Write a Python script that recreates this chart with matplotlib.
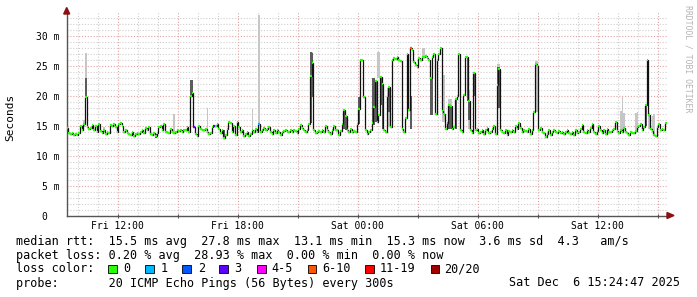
import numpy as np
import matplotlib
matplotlib.use('Agg')
import matplotlib.pyplot as plt
from matplotlib.patches import Rectangle, Polygon

# ---------------- data (5-minute steps, ms) ----------------
median_ms = [
    14.6, 13.8, 13.6, 13.7, 13.5, 13.6, 13.4, 13.8, 14.9, 14.2, 15.3, 19.8,
    14.8, 14.4, 14.6, 15.1, 14.3, 15.0, 13.9, 15.2, 14.1, 13.7, 14.2, 13.6,
    14.0, 13.8, 15.1, 15.0, 15.2, 14.7, 14.0, 15.3, 15.4, 15.0, 14.0, 14.3,
    13.8, 13.6, 13.5, 13.9, 13.3, 13.6, 13.8, 13.6, 13.9, 14.2, 13.7, 14.6,
    14.2, 14.8, 13.6, 13.4, 13.7, 13.3, 13.8, 14.7, 15.0, 14.3, 15.2, 13.9,
    14.0, 13.8, 14.4, 13.9, 13.7, 14.0, 14.2, 14.1, 14.3, 13.9, 14.2, 14.3,
    14.8, 13.9, 20.0, 20.5, 14.7, 13.6, 13.3, 15.0, 14.4, 14.2, 14.3, 14.5,
    14.0, 13.6, 13.8, 14.8, 15.0, 15.0, 15.3, 14.5, 13.8, 14.2, 13.0, 13.4,
    14.5, 15.6, 15.4, 14.0, 15.0, 13.5, 15.6, 14.7, 14.0, 14.2, 13.2, 13.6,
    13.9, 13.2, 13.6, 14.2, 13.9, 14.5, 14.0, 15.3, 14.0, 14.3, 14.6, 14.2,
    14.5, 14.8, 14.0, 13.6, 14.2, 13.8, 14.3, 13.9, 13.5, 14.0, 14.1, 14.3,
    14.0, 13.9, 14.2, 14.0, 14.3, 14.1, 13.8, 14.4, 15.1, 14.6, 14.2, 14.0,
    14.3, 15.3, 23.2, 25.4, 14.3, 13.8, 13.9, 14.1, 14.0, 14.3, 13.9, 15.0,
    14.2, 14.0, 13.6, 14.3, 15.0, 14.2, 14.3, 13.5, 14.1, 15.2, 17.6, 16.6,
    14.2, 14.0, 14.4, 13.9, 14.1, 14.0, 15.2, 17.7, 26.0, 26.0, 19.8, 14.2,
    13.6, 13.9, 14.3, 15.5, 18.1, 22.5, 15.6, 16.8, 23.1, 22.0, 14.2, 13.9,
    20.0, 21.5, 14.8, 26.0, 26.3, 26.1, 26.5, 26.0, 25.8, 14.5, 13.9, 16.3,
    27.0, 17.6, 27.9, 27.6, 25.6, 25.1, 24.8, 26.2, 26.0, 26.5, 26.4, 26.6,
    26.2, 26.0, 22.9, 26.5, 26.9, 17.0, 25.9, 27.0, 27.9, 17.5, 17.0, 14.5,
    15.4, 18.4, 18.2, 14.5, 14.8, 19.5, 20.0, 27.0, 14.2, 13.9, 20.1, 26.5,
    26.5, 19.1, 14.2, 13.8, 23.8, 14.3, 14.5, 13.7, 13.9, 14.3, 13.6, 14.2,
    14.6, 13.8, 14.0, 14.5, 15.0, 13.6, 21.8, 24.5, 14.3, 14.0, 13.7, 14.2,
    13.5, 14.1, 13.9, 14.3, 14.0, 15.0, 14.5, 15.4, 14.6, 14.0, 14.3, 14.1,
    13.9, 14.4, 13.6, 14.2, 17.3, 25.2, 25.0, 14.2, 14.6, 14.0, 13.8, 13.1,
    13.6, 14.2, 13.5, 13.9, 14.3, 14.0, 13.7, 14.1, 13.8, 14.0, 13.6, 13.9,
    14.3, 13.8, 13.6, 13.9, 13.5, 14.2, 13.7, 13.9, 14.4, 15.1, 14.0, 13.7,
    14.3, 13.9, 14.6, 15.2, 14.0, 13.6, 14.1, 15.0, 14.3, 13.8, 14.2, 13.6,
    14.5, 14.0, 13.9, 14.2, 14.4, 15.6, 14.1, 13.7, 14.3, 13.9, 14.6, 14.0,
    13.8, 13.4, 13.9, 13.7, 13.8, 14.1, 14.7, 15.0, 15.2, 14.3, 14.8, 18.4,
    25.9, 16.8, 14.4, 14.1, 13.5, 13.3, 14.8, 15.3, 14.2, 14.5, 14.3, 15.4,
]
step_min = 5
start_hour = 9 + 27 / 60          # Fri 09:27
span_hours = 30

loss_classes = ['0', '1', '2', '3', '4-5', '6-10', '11-19', '20/20']
loss_colors = ['#26ff00', '#00b8ff', '#0059ff', '#5e00ff', '#ff00ff',
               '#ff5500', '#ff0000', '#a10000']
loss_idx = [76, 88, 115, 206, 228]
loss_cls = [3, 3, 1, 5, 4]

light_idx = [0, 10, 11, 22, 64, 84, 111, 115, 147, 175, 186, 187, 192, 193,
             213, 214, 225, 226, 229, 230, 241, 258, 259, 281, 282, 332, 333,
             334, 341, 342, 349, 351, 352]
light_lo = [14.2, 14.8, 19.8, 13.9, 13.7, 14.0, 14.2, 15.3, 19.8, 15.2, 22.9,
            22.9, 14.8, 14.8, 26.5, 26.4, 15.6, 15.6, 14.5, 14.5, 14.5, 22.0,
            24.5, 17.3, 17.3, 14.0, 13.9, 14.6, 14.1, 14.7, 14.4, 14.1, 13.5]
light_hi = [16.8, 16.0, 27.0, 14.8, 16.9, 18.0, 17.7, 33.5, 27.3, 19.7, 27.3,
            27.3, 21.3, 21.3, 28.0, 28.0, 23.4, 23.4, 19.5, 19.5, 21.0, 25.2,
            25.2, 25.7, 25.7, 17.5, 19.8, 17.0, 17.0, 17.3, 17.0, 16.5, 17.0]

dark_idx = [11, 53, 74, 75, 94, 146, 147, 166, 167, 175, 183, 184, 185, 188,
            189, 192, 193, 206, 218, 219, 229, 230, 233, 240, 241, 244, 258,
            259, 347, 348]
dark_lo = [19.8, 12.9, 20.0, 20.5, 13.0, 15.5, 19.8, 14.5, 14.3, 15.2, 15.1,
           15.1, 15.6, 18.5, 14.5, 17.3, 17.3, 14.5, 16.8, 16.8, 14.5, 14.5,
           14.5, 19.1, 16.0, 20.0, 17.9, 17.9, 15.0, 18.4]
dark_hi = [23.0, 13.5, 22.6, 22.6, 14.2, 27.3, 27.0, 17.7, 16.6, 19.7, 22.9,
           22.9, 22.5, 23.1, 22.0, 20.0, 21.5, 20.0, 22.9, 26.5, 18.4, 18.2,
           19.5, 26.5, 19.1, 24.0, 24.8, 24.8, 18.4, 25.9]

y_major = [0, 5, 10, 15, 20, 25, 30]
y_labels = ['0  ', '5 m', '10 m', '15 m', '20 m', '25 m', '30 m']
x_labels = ['Fri 12:00', 'Fri 18:00', 'Sat 00:00', 'Sat 06:00', 'Sat 12:00']

# ---------------- figure ----------------
W, H = 697, 297
fig = plt.figure(figsize=(W / 100, H / 100), dpi=100)
fig.patch.set_facecolor('white')
L, R, B, T = 66.7, 666.7, 215.5, 11.5
ax = fig.add_axes([L / W, 1 - B / H, (R - L) / W, (B - T) / H])
ax.set_facecolor('white')
ax.set_xlim(0, span_hours)
ax.set_ylim(0, 34)

mono = 'DejaVu Sans Mono'
step = step_min / 60
n = len(median_ms)
edges = np.arange(n + 1) * step
med = np.array(median_ms)

# grid
first_major = (12 - start_hour) % 3
x_major = np.arange(first_major, span_hours, 3)
x_minor = [h for h in np.arange(first_major % 1, span_hours, 1)
           if min(abs(h - x_major)) > 1e-6]
y_minor = [v for v in range(1, 34) if v % 5]
grid_kw = dict(lw=0.8, linestyle=(0, (1, 1.6)), zorder=0)
for v in y_minor:
    ax.axhline(v, color='#cfcfcf', **grid_kw)
for h in x_minor:
    ax.axvline(h, color='#cfcfcf', **grid_kw)
for v in y_major[1:]:
    ax.axhline(v, color='#e3a3a3', **grid_kw)
for h in x_major:
    ax.axvline(h, color='#e3a3a3', **grid_kw)

# smoke
ax.bar(np.array(light_idx) * step, np.array(light_hi) - np.array(light_lo),
       bottom=light_lo, width=step, align='edge', color='#c6c6c6', lw=0, zorder=2)
ax.bar(np.array(dark_idx) * step, np.array(dark_hi) - np.array(dark_lo),
       bottom=dark_lo, width=step, align='edge', color='#5c5c5c', lw=0, zorder=2)

# median line
ax.stairs(med, edges, baseline=None, color='#111111', lw=0.9, zorder=3)
cols = [loss_colors[0]] * n
for i, c in zip(loss_idx, loss_cls):
    cols[i] = loss_colors[c]
ax.hlines(med, edges[:-1], edges[1:], colors=cols, lw=1.6, zorder=4,
          capstyle='butt')

# axes styling
for s in ['top', 'right']:
    ax.spines[s].set_visible(False)
for s in ['left', 'bottom']:
    ax.spines[s].set_color('#555555')
    ax.spines[s].set_linewidth(1.0)
ax.set_yticks(y_major)
ax.set_yticklabels(y_labels, family=mono, fontsize=7)
ax.set_xticks(x_major)
ax.set_xticklabels([x_labels[k // 2] if k % 2 == 0 else '' for k in range(len(x_major))],
                   family=mono, fontsize=7)
ax.tick_params(axis='y', length=0, pad=5.3)
ax.tick_params(axis='x', length=2.5, direction='inout', color='#555555', pad=2.5)

# arrows
def px(x, y):
    return (x / W, 1 - y / H)
fig.patches.append(Polygon([px(L - 3, 14), px(L + 3, 14), px(L, 7.5)], closed=True,
                           transform=fig.transFigure, color='#8b1010'))
fig.patches.append(Polygon([px(667, 212.5), px(667, 218.5), px(674, 215.5)], closed=True,
                           transform=fig.transFigure, color='#8b1010'))

# side texts
fig.text(10 / W, 1 - 117 / H, 'Seconds', rotation=90, family=mono, fontsize=8,
         ha='center', va='center')
fig.text(688 / W, 1 - 59 / H, 'RRDTOOL / TOBI OETIKER', rotation=270, family=mono,
         fontsize=5.9, color='#b4b4b4', ha='center', va='center')

# legend
fs = 8.5
fig.text(16 / W, 1 - 241 / H,
         'median rtt:  15.5 ms avg  27.8 ms max  13.1 ms min  15.3 ms now  3.6 ms sd  4.3   am/s',
         family=mono, fontsize=fs, va='center')
fig.text(16 / W, 1 - 255 / H,
         'packet loss: 0.20 % avg  28.93 % max  0.00 % min  0.00 % now',
         family=mono, fontsize=fs, va='center')
fig.text(16 / W, 1 - 269 / H, 'loss color:', family=mono, fontsize=fs, va='center')
box_x = [108, 145, 182, 219, 257, 307.5, 365, 430.7]
lab_x = [123.5, 161, 198, 234, 271, 322, 380, 444]
for bx, lx, col, lab in zip(box_x, lab_x, loss_colors, loss_classes):
    fig.patches.append(Rectangle((bx / W, 1 - 273 / H), 8.5 / W, 8.5 / H,
                                 transform=fig.transFigure, facecolor=col,
                                 edgecolor='black', lw=0.6))
    fig.text(lx / W, 1 - 269 / H, lab, family=mono, fontsize=fs, va='center')
fig.text(16 / W, 1 - 283 / H, 'probe:       20 ICMP Echo Pings (56 Bytes) every 300s',
         family=mono, fontsize=fs, va='center')
fig.text(680 / W, 1 - 283 / H, 'Sat Dec  6 15:24:47 2025', family=mono, fontsize=fs,
         va='center', ha='right')

fig.savefig('out.png', dpi=100, facecolor='white')
